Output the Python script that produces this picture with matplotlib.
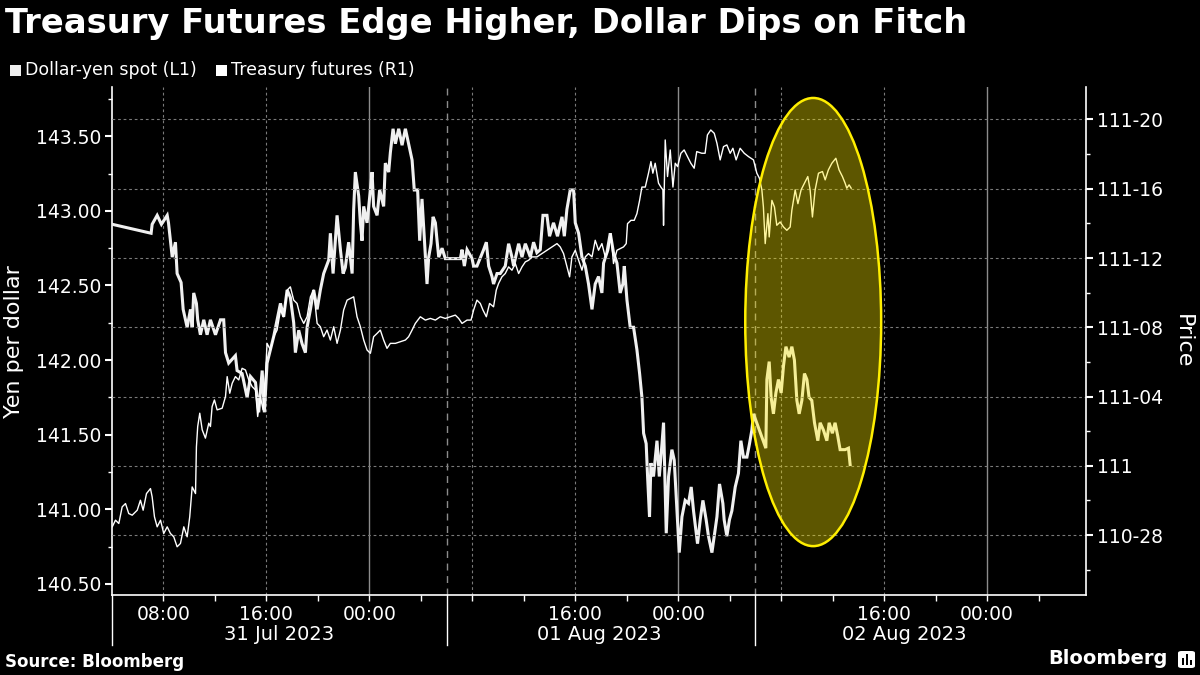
import matplotlib
matplotlib.use("Agg")
import matplotlib.pyplot as plt
from matplotlib.patches import Ellipse, Rectangle, FancyBboxPatch
from matplotlib.lines import Line2D
from matplotlib.ticker import FixedLocator, MultipleLocator
import matplotlib.transforms as mtransforms

# ---------------- data (hours since 31 Jul 2023 00:00) ----------------
usdjpy_hours = [
    4.02, 7.04, 7.12, 7.51, 7.84, 8.29, 8.39, 8.68, 8.93, 9.06, 9.37, 9.53, 9.84, 10.10, 10.23,
    10.35, 10.56, 10.66, 10.87, 11.13, 11.39, 11.65, 12.04, 12.43, 12.68, 12.82, 13.07, 13.59,
    13.72, 14.11, 14.50, 14.76, 15.15, 15.40, 15.67, 15.84, 16.05, 16.31, 16.57, 16.83, 17.09,
    17.34, 17.61, 17.86, 18.12, 18.25, 18.51, 18.77, 19.03, 19.16, 19.42, 19.67, 19.94, 20.19,
    20.45, 20.84, 20.97, 21.18, 21.49, 21.75, 21.96, 22.13, 22.39, 22.66, 22.78, 22.91, 23.17,
    23.30, 23.43, 23.56, 23.82, 24.08, 24.21, 24.33, 24.60, 24.80, 25.11, 25.24, 25.50, 25.63,
    25.84, 26.02, 26.28, 26.54, 26.80, 27.05, 27.32, 27.49, 27.75, 27.91, 28.09, 28.22, 28.35,
    28.48, 28.61, 28.79, 28.95, 29.13, 29.26, 29.39, 29.65, 29.90, 31.07, 31.20, 31.38, 31.59,
    31.98, 32.10, 32.36, 32.88, 33.09, 33.27, 33.53, 33.65, 33.92, 34.17, 34.56, 34.82, 35.08,
    35.21, 35.60, 35.86, 36.12, 36.51, 36.76, 37.02, 37.28, 37.49, 37.80, 38.00, 38.31, 38.62,
    38.97, 39.15, 39.35, 39.61, 39.87, 40.00, 40.26, 40.52, 40.78, 41.03, 41.30, 41.55, 41.81,
    42.07, 42.20, 42.46, 42.72, 42.97, 43.24, 43.49, 43.70, 43.81, 44.02, 44.27, 44.53, 44.79,
    45.00, 45.18, 45.31, 45.51, 45.62, 45.77, 45.88, 46.08, 46.35, 46.53, 46.74, 46.86, 47.07,
    47.25, 47.51, 47.69, 47.90, 48.08, 48.29, 48.54, 48.80, 49.01, 49.19, 49.40, 49.50, 49.71,
    49.92, 50.17, 50.35, 50.62, 50.80, 51.01, 51.21, 51.47, 51.57, 51.78, 51.98, 52.17, 52.43,
    52.68, 52.87, 53.07, 53.34, 53.54, 53.72, 53.85, 54.81, 54.89, 55.07, 55.22, 55.40, 55.59,
    55.79, 56.00, 56.18, 56.37, 56.62, 56.83, 57.03, 57.22, 57.40, 57.61, 57.81, 58.00, 58.17,
    58.38, 58.59, 58.85, 59.03, 59.29, 59.55, 59.73, 59.98, 60.19, 60.40, 60.58, 60.97, 61.23,
    61.36,
]
usdjpy_values = [
    142.91, 142.85, 142.91, 142.97, 142.91, 142.97, 142.92, 142.69, 142.79, 142.58, 142.52, 142.34,
    142.22, 142.34, 142.22, 142.45, 142.38, 142.27, 142.17, 142.27, 142.17, 142.27, 142.17, 142.27,
    142.27, 142.05, 141.98, 142.03, 141.93, 141.91, 141.75, 141.89, 141.85, 141.65, 141.93, 141.65,
    141.98, 142.07, 142.16, 142.27, 142.38, 142.29, 142.47, 142.42, 142.25, 142.05, 142.20, 142.11,
    142.05, 142.22, 142.34, 142.47, 142.34, 142.47, 142.58, 142.67, 142.85, 142.58, 142.97, 142.74,
    142.58, 142.62, 142.79, 142.58, 143.01, 143.26, 143.10, 142.92, 142.80, 143.03, 142.92, 143.14,
    143.26, 143.03, 142.97, 143.14, 143.03, 143.32, 143.26, 143.39, 143.55, 143.45, 143.55, 143.44,
    143.55, 143.45, 143.34, 143.14, 143.14, 142.80, 143.08, 142.89, 142.69, 142.51, 142.69, 142.78,
    142.96, 142.92, 142.80, 142.69, 142.75, 142.68, 142.68, 142.74, 142.63, 142.74, 142.68, 142.63,
    142.63, 142.74, 142.79, 142.63, 142.56, 142.51, 142.58, 142.58, 142.63, 142.78, 142.69, 142.63,
    142.78, 142.69, 142.78, 142.69, 142.79, 142.72, 142.74, 142.97, 142.97, 142.83, 142.92, 142.83,
    142.96, 142.83, 143.01, 143.14, 143.14, 142.92, 142.85, 142.69, 142.63, 142.51, 142.34, 142.51,
    142.56, 142.45, 142.65, 142.72, 142.85, 142.72, 142.65, 142.45, 142.51, 142.63, 142.40, 142.22,
    142.22, 142.07, 141.91, 141.75, 141.51, 141.44, 141.22, 140.95, 141.31, 141.22, 141.46, 141.22,
    141.44, 141.58, 140.84, 141.22, 141.40, 141.33, 140.99, 140.71, 140.95, 141.06, 141.04, 141.15,
    140.99, 140.84, 140.77, 140.93, 141.06, 140.93, 140.82, 140.71, 140.82, 140.95, 141.17, 141.04,
    140.93, 140.82, 140.93, 140.99, 141.15, 141.24, 141.46, 141.35, 141.35, 141.44, 141.53, 141.64,
    141.41, 141.87, 141.99, 141.75, 141.64, 141.78, 141.87, 141.78, 141.96, 142.09, 142.02, 142.09,
    142.00, 141.73, 141.64, 141.73, 141.91, 141.87, 141.75, 141.73, 141.58, 141.46, 141.58, 141.53,
    141.46, 141.58, 141.51, 141.58, 141.49, 141.40, 141.40, 141.41, 141.30,
]

treasury_hours = [
    4.02, 4.27, 4.53, 4.79, 5.05, 5.30, 5.57, 5.96, 6.21, 6.42, 6.68, 6.99, 7.12, 7.30, 7.51,
    7.77, 8.02, 8.29, 8.54, 8.80, 9.06, 9.32, 9.58, 9.84, 10.04, 10.23, 10.49, 10.56, 10.66,
    10.82, 11.01, 11.26, 11.52, 11.65, 11.78, 11.96, 12.17, 12.56, 12.82, 12.95, 13.15, 13.34,
    13.59, 13.85, 14.11, 14.37, 14.63, 14.89, 15.15, 15.32, 15.53, 15.74, 15.92, 16.05, 16.31,
    16.57, 16.83, 17.09, 17.34, 17.61, 17.86, 18.12, 18.38, 18.64, 18.90, 19.16, 19.42, 19.67,
    19.94, 20.19, 20.45, 20.71, 20.97, 21.23, 21.49, 21.75, 22.00, 22.27, 22.78, 23.04, 23.30,
    23.56, 23.82, 24.08, 24.33, 24.60, 24.85, 25.11, 25.37, 25.63, 26.02, 26.41, 26.80, 27.05,
    27.32, 27.57, 27.96, 28.35, 28.74, 29.13, 29.51, 29.90, 30.29, 30.68, 30.94, 31.20, 31.59,
    31.90, 32.10, 32.36, 32.62, 32.83, 33.09, 33.34, 33.65, 33.86, 34.04, 34.30, 34.56, 34.82,
    35.08, 35.34, 35.60, 35.86, 36.12, 36.38, 36.64, 37.02, 37.41, 37.80, 38.19, 38.58, 38.83,
    39.09, 39.36, 39.56, 39.74, 40.00, 40.26, 40.52, 40.78, 41.03, 41.30, 41.55, 41.81, 42.07,
    42.33, 42.59, 42.77, 42.97, 43.24, 43.49, 43.75, 43.96, 44.06, 44.33, 44.58, 44.79, 45.00,
    45.18, 45.44, 45.69, 45.88, 46.03, 46.21, 46.47, 46.65, 46.81, 46.86, 46.99, 47.17, 47.38,
    47.59, 47.77, 47.95, 48.21, 48.46, 48.72, 48.98, 49.24, 49.44, 49.83, 50.09, 50.27, 50.53,
    50.80, 51.01, 51.26, 51.52, 51.78, 52.04, 52.25, 52.50, 52.81, 53.13, 53.46, 53.85, 54.11,
    54.31, 54.50, 54.62, 54.76, 54.97, 55.07, 55.28, 55.48, 55.66, 55.92, 56.18, 56.44, 56.70,
    56.83, 57.09, 57.30, 57.55, 57.81, 58.07, 58.25, 58.43, 58.64, 58.90, 59.21, 59.42, 59.67,
    59.94, 60.25, 60.50, 60.76, 60.97, 61.10, 61.28, 61.44,
]
treasury_prices = [
    110.890, 110.902, 110.896, 110.926, 110.932, 110.914, 110.911, 110.920, 110.938, 110.920,
    110.950, 110.959, 110.944, 110.908, 110.890, 110.902, 110.878, 110.890, 110.878, 110.872,
    110.854, 110.860, 110.890, 110.872, 110.908, 110.962, 110.950, 111.034, 111.071, 111.095,
    111.065, 111.050, 111.077, 111.071, 111.107, 111.119, 111.101, 111.104, 111.125, 111.161,
    111.131, 111.149, 111.161, 111.155, 111.176, 111.173, 111.155, 111.143, 111.137, 111.089,
    111.125, 111.101, 111.161, 111.221, 111.209, 111.233, 111.245, 111.281, 111.269, 111.317,
    111.323, 111.299, 111.293, 111.269, 111.257, 111.269, 111.305, 111.317, 111.257, 111.251,
    111.233, 111.245, 111.227, 111.251, 111.221, 111.245, 111.281, 111.299, 111.305, 111.269,
    111.251, 111.227, 111.209, 111.203, 111.233, 111.239, 111.245, 111.227, 111.212, 111.221,
    111.221, 111.224, 111.227, 111.233, 111.245, 111.257, 111.269, 111.263, 111.266, 111.263,
    111.269, 111.266, 111.269, 111.272, 111.266, 111.257, 111.263, 111.263, 111.281, 111.299,
    111.293, 111.281, 111.269, 111.293, 111.287, 111.317, 111.329, 111.341, 111.347, 111.359,
    111.353, 111.365, 111.347, 111.359, 111.368, 111.371, 111.377, 111.377, 111.383, 111.389,
    111.395, 111.401, 111.395, 111.383, 111.359, 111.341, 111.377, 111.389, 111.371, 111.353,
    111.377, 111.383, 111.377, 111.407, 111.389, 111.401, 111.377, 111.389, 111.419, 111.365,
    111.389, 111.392, 111.395, 111.401, 111.437, 111.443, 111.443, 111.455, 111.479, 111.503,
    111.503, 111.528, 111.549, 111.528, 111.546, 111.510, 111.503, 111.498, 111.434, 111.588,
    111.522, 111.570, 111.503, 111.546, 111.540, 111.564, 111.570, 111.558, 111.546, 111.537,
    111.567, 111.564, 111.564, 111.597, 111.606, 111.600, 111.582, 111.552, 111.576, 111.579,
    111.564, 111.573, 111.552, 111.573, 111.564, 111.558, 111.552, 111.528, 111.519, 111.498,
    111.467, 111.401, 111.455, 111.413, 111.479, 111.467, 111.434, 111.440, 111.431, 111.425,
    111.431, 111.461, 111.498, 111.473, 111.498, 111.510, 111.522, 111.498, 111.449, 111.498,
    111.528, 111.531, 111.516, 111.534, 111.546, 111.555, 111.534, 111.522, 111.510, 111.501,
    111.507, 111.501,
]

left_ticks = [140.5, 141.0, 141.5, 142.0, 142.5, 143.0, 143.5]
left_tick_labels = ["140.50", "141.00", "141.50", "142.00", "142.50", "143.00", "143.50"]
right_ticks = [110.875, 111.0, 111.125, 111.25, 111.375, 111.5, 111.625]
right_tick_labels = ["110-28", "111", "111-04", "111-08", "111-12", "111-16", "111-20"]
x_label_hours = [8, 16, 24, 40, 48, 64, 72]
x_labels = ["08:00", "16:00", "00:00", "16:00", "00:00", "16:00", "00:00"]
date_labels = ["31 Jul 2023", "01 Aug 2023", "02 Aug 2023"]
date_label_hours = [17.0, 41.9, 65.6]
separator_hours = [4, 30, 54]
midnight_hours = [24, 48, 72]
dotted_hours = [8, 16, 32, 40, 56, 64]

title = "Treasury Futures Edge Higher, Dollar Dips on Fitch"
legend_labels = ["Dollar-yen spot (L1)", "Treasury futures (R1)"]

# ---------------- styling ----------------
BG = "black"
FG = "white"
GRID = "#7a7a7a"
plt.rcParams["font.family"] = ["DejaVu Sans"]

W, H = 1200, 675
fig = plt.figure(figsize=(12, 6.75), dpi=100, facecolor=BG)

L, R, T, B = 112, 1085.5, 87.3, 595
ax = fig.add_axes([L / W, 1 - B / H, (R - L) / W, (B - T) / H])
ax.set_facecolor(BG)
ax2 = ax.twinx()
ax2.patch.set_visible(False)

ax.set_xlim(4.0, 79.65)
ax.set_ylim(140.426, 143.828)
ax2.set_ylim(110.767, 111.683)

# grid
for v in right_ticks:
    ax2.axhline(v, color=GRID, lw=0.8, ls=(0, (2.5, 2.5)), zorder=0)
for hx in dotted_hours:
    ax.axvline(hx, color=GRID, lw=0.8, ls=(0, (2.5, 2.5)), zorder=0)
for hx in midnight_hours:
    ax.axvline(hx, color="#8c8c8c", lw=1.0, zorder=0)
for hx in separator_hours[1:]:
    ax.axvline(hx, color="#8c8c8c", lw=1.0, ls=(0, (5, 4)), zorder=0)

# series
ax.plot(usdjpy_hours, usdjpy_values, color="#f0f0f0", lw=2.2, solid_joinstyle="miter", zorder=3)
ax2.plot(treasury_hours, treasury_prices, color="#ffffff", lw=1.0, zorder=3)

# highlight ellipse (drawn above both series)
ell = Ellipse((58.49, 142.255), width=10.56, height=3.003, transform=ax.transData,
              facecolor="#ffeb00", alpha=0.37, edgecolor="none", zorder=10)
ax2.add_patch(ell)
ell_edge = Ellipse((58.49, 142.255), width=10.56, height=3.003, transform=ax.transData,
                   facecolor="none", edgecolor="#ffee00", lw=1.8, zorder=11)
ax2.add_patch(ell_edge)

# spines
for a in (ax, ax2):
    a.spines["top"].set_visible(False)
    for s in ("left", "right", "bottom"):
        a.spines[s].set_color(FG)
        a.spines[s].set_linewidth(1.2)
ax.spines["right"].set_visible(False)
ax2.spines["left"].set_visible(False)
ax2.spines["bottom"].set_visible(False)

# y ticks
ax.set_yticks(left_ticks)
ax.set_yticklabels(left_tick_labels)
ax.yaxis.set_minor_locator(MultipleLocator(0.25))
ax.tick_params(axis="y", which="major", colors=FG, length=5, width=1.5, pad=3, labelsize=13.5)
ax.tick_params(axis="y", which="minor", colors=FG, length=3, width=1.0)
ax2.set_yticks(right_ticks)
ax2.set_yticklabels(right_tick_labels)
ax2.yaxis.set_minor_locator(MultipleLocator(0.0625))
ax2.tick_params(axis="y", which="major", colors=FG, length=5, width=1.5, pad=3, labelsize=13.5)
ax2.tick_params(axis="y", which="minor", colors=FG, length=3, width=1.0)

# x ticks
ax.set_xticks(x_label_hours)
ax.set_xticklabels(x_labels)
ax.xaxis.set_minor_locator(FixedLocator(list(range(8, 80, 4))))
ax.tick_params(axis="x", which="both", colors=FG, length=4, width=1.0, pad=3, labelsize=13.5)

# long separator ticks and date labels below the axis
trans = mtransforms.blended_transform_factory(ax.transData, ax.transAxes)
drop = 50 / (B - T)
for hx in separator_hours:
    ax.add_line(Line2D([hx, hx], [0, -drop], transform=trans, color=FG, lw=1.0, clip_on=False))
for hx, lab in zip(date_label_hours, date_labels):
    ax.text(hx, -(634 - B) / (B - T), lab, transform=trans, color=FG, fontsize=14,
            ha="center", va="center")

# axis labels
fig.text(14 / W, 1 - 342 / H, "Yen per dollar", color=FG, fontsize=16, rotation=90,
         ha="center", va="center")
fig.text(1183 / W, 1 - 341 / H, "Price", color=FG, fontsize=16, rotation=270,
         ha="center", va="center")

# title
fig.text(5 / W, 1 - 24 / H, title, color=FG, fontsize=24.3, fontweight="bold",
         ha="left", va="center")

# legend
sq = 11
for x0, lab, col in zip([10, 216], legend_labels, ["#eeeeee", "#ffffff"]):
    fig.patches.append(Rectangle((x0 / W, 1 - 75.5 / H), sq / W, sq / H, transform=fig.transFigure,
                                 facecolor=col, edgecolor="none"))
    fig.text((x0 + 15) / W, 1 - 70 / H, lab, color=FG, fontsize=12.5, ha="left", va="center")

# footer
fig.text(5 / W, 1 - 662 / H, "Source: Bloomberg", color=FG, fontsize=12, fontweight="bold",
         ha="left", va="center")
fig.text(1168 / W, 1 - 659 / H, "Bloomberg", color=FG, fontsize=14, fontweight="bold",
         ha="right", va="center")
fig.patches.append(FancyBboxPatch((1178 / W, 1 - 668 / H), 17 / W, 17 / H,
                                  boxstyle="round,pad=0,rounding_size=0.003",
                                  transform=fig.transFigure, facecolor=FG, edgecolor="none"))
for bx, bh in zip([1182, 1186, 1190], [7, 11, 5]):
    fig.patches.append(Rectangle((bx / W, 1 - 665 / H), 2 / W, bh / H, transform=fig.transFigure,
                                 facecolor=BG, edgecolor="none"))

fig.savefig("out.png", dpi=100, facecolor=BG)
